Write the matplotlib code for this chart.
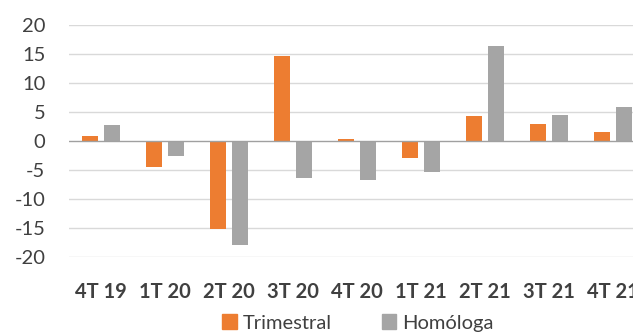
import matplotlib.pyplot as plt
import matplotlib.patches as mpatches
import numpy as np

categories = ["4T 19", "1T 20", "2T 20", "3T 20", "4T 20", "1T 21", "2T 21", "3T 21", "4T 21"]
trimestral = [0.8, -4.4, -15.2, 14.7, 0.3, -3.0, 4.3, 2.9, 1.5]
homologa = [2.8, -2.5, -17.9, -6.3, -6.8, -5.4, 16.4, 4.5, 5.8]
yticks = [-20, -15, -10, -5, 0, 5, 10, 15, 20]

orange = "#ED7D31"
gray = "#A5A5A5"
txt = "#404040"

plt.rcParams['font.family'] = ['Lato', 'DejaVu Sans']

fig = plt.figure(figsize=(6.33, 3.34), dpi=100)
# axes runs past the right edge, like the cropped original
ax = fig.add_axes([69/633, 77/334, 576/633, 232/334])

x = np.arange(len(categories))
w = 0.25
off = 0.172
ax.bar(x - off, trimestral, w, color=orange, zorder=3)
ax.bar(x + off, homologa, w, color=gray, zorder=3)

ax.set_xlim(-0.5, len(categories) - 0.5)
ax.set_ylim(-20, 20)
ax.set_yticks(yticks)
ax.set_yticklabels([str(v) for v in yticks])
ax.set_xticks(x)
ax.set_xticklabels(categories, fontweight='bold')

ax.tick_params(axis='y', length=0, pad=17, labelsize=14.5, colors=txt)
ax.tick_params(axis='x', length=0, pad=18, labelsize=14.5, colors=txt)

for v in yticks:
    if v != 0:
        ax.axhline(v, color="#D9D9D9", lw=1, zorder=1)
ax.axhline(0, color="#A0A0A0", lw=1, zorder=4)

for s in ax.spines.values():
    s.set_visible(False)

handles = [mpatches.Patch(color=orange, label="Trimestral"),
           mpatches.Patch(color=gray, label="Homóloga")]
leg = fig.legend(handles=handles, loc='center', bbox_to_anchor=(358/633, 1 - 323/334),
                 ncol=2, frameon=False, fontsize=14.5, handlelength=0.7, handleheight=0.7,
                 handletextpad=0.3, columnspacing=2.5, borderpad=0)
for t in leg.get_texts():
    t.set_color(txt)

fig.savefig("out.png", dpi=100)
